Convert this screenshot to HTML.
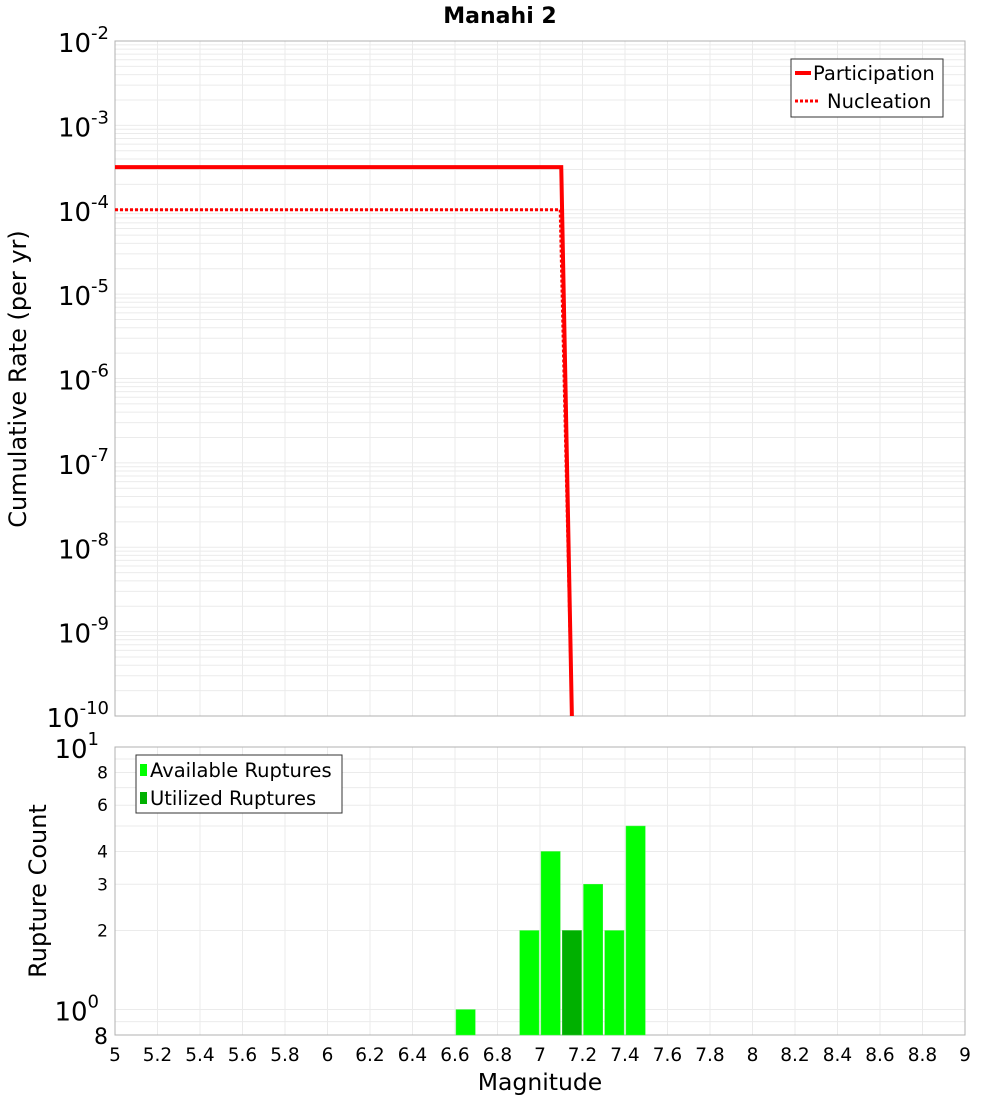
<!DOCTYPE html>
<html><head><meta charset="utf-8"><style>
body{margin:0;background:#fff;font-family:"Liberation Sans","DejaVu Sans",sans-serif}
svg text{font-family:"DejaVu Sans","Liberation Sans",sans-serif}
</style></head><body>
<svg id="c" width="1000" height="1100" xmlns="http://www.w3.org/2000/svg"></svg>
<script>
const binCenters=[6.65,6.95,7.05,7.15,7.25,7.35,7.45];
const availCounts=[1,2,4,2,3,2,5];
const utilCenters=[7.15];
const utilCounts=[2];
const partMag=[5,7.1,7.15];
const partRate=[3.2e-4,3.2e-4,1e-10];
const nuclMag=[5,7.095,7.15];
const nuclRate=[1e-4,1e-4,1e-10];
const xTicks=[5,5.2,5.4,5.6,5.8,6,6.2,6.4,6.6,6.8,7,7.2,7.4,7.6,7.8,8,8.2,8.4,8.6,8.8,9];
const topExps=[-2,-3,-4,-5,-6,-7,-8,-9,-10];
const botTicks=[8,6,4,3,2];

const NS="http://www.w3.org/2000/svg";
const svg=document.getElementById('c');
function mk(t,a,p){const e=document.createElementNS(NS,t);for(const k in a)e.setAttribute(k,a[k]);(p||svg).appendChild(e);return e;}
const X0=115,X1=965;
const x=m=>X0+(m-5)/4*(X1-X0);
const T0=41,T1=716;
const yT=v=>T0+(-2-Math.log10(v))/8*(T1-T0);
const B0=747,B1=1035;
const yB=v=>B0+(1-Math.log10(v))/(1-Math.log10(0.8))*(B1-B0);

const gt=mk('g',{});

for(let e=-10;e<-2;e++)for(let k=1;k<10;k++){const yy=yT(k*Math.pow(10,e));mk('line',{x1:X0,x2:X1,y1:yy,y2:yy,stroke:'#ebebeb','stroke-width':1},gt);}
const gb=mk('g',{});

[0.8,0.9,1,2,3,4,5,6,7,8,9,10].forEach(v=>{const yy=yB(v);mk('line',{x1:X0,x2:X1,y1:yy,y2:yy,stroke:'#ebebeb'},gb);});
xTicks.forEach(t=>{const xx=x(t);mk('line',{x1:xx,x2:xx,y1:T0,y2:T1,stroke:'#ebebeb'},gt);mk('line',{x1:xx,x2:xx,y1:B0,y2:B1,stroke:'#ebebeb'},gb);});

const ft=mk('rect',{x:X0,y:T0,width:X1-X0,height:T1-T0,fill:'none',stroke:'#b0b0b0'});

const fb=mk('rect',{x:X0,y:B0,width:X1-X0,height:B1-B0,fill:'none',stroke:'#b0b0b0'});


const pp=mk('polyline',{points:partMag.map((m,i)=>x(m)+','+yT(partRate[i])).join(' '),fill:'none',stroke:'#ff0000','stroke-width':4});

const np=mk('polyline',{points:nuclMag.map((m,i)=>x(m)+','+yT(nuclRate[i])).join(' '),fill:'none',stroke:'#ff0000','stroke-width':3,'stroke-dasharray':'3,2'});


const bw=x(5.1)-x(5);
binCenters.forEach((c,i)=>{const r=mk('rect',{x:x(c)-bw/2+1,y:yB(availCounts[i]),width:bw-2,height:B1-yB(availCounts[i]),fill:'#00ff00',stroke:'#40f040','stroke-width':0.5});
});
utilCenters.forEach((c,i)=>{const r=mk('rect',{x:x(c)-bw/2+1,y:yB(utilCounts[i]),width:bw-2,height:B1-yB(utilCounts[i]),fill:'#00b000',stroke:'#40c040','stroke-width':0.5});
});

topExps.forEach(e=>{const t=mk('text',{x:109,y:yT(Math.pow(10,e))+11,'text-anchor':'end','font-size':26});

t.innerHTML='10<tspan dy="-13" font-size="18">'+e+'</tspan>';});
const l1=mk('text',{x:99,y:yB(10)+11,'text-anchor':'end','font-size':26});l1.innerHTML='10<tspan dy="-13" font-size="18">1</tspan>';

const l0=mk('text',{x:99,y:yB(1)+11,'text-anchor':'end','font-size':26});l0.innerHTML='10<tspan dy="-13" font-size="18">0</tspan>';

botTicks.forEach(v=>{const t=mk('text',{x:108,y:yB(v)+6,'text-anchor':'end','font-size':17});t.textContent=v;
});
const l8=mk('text',{x:108,y:1044,'text-anchor':'end','font-size':22});l8.textContent='8';

xTicks.forEach(t=>{const e=mk('text',{x:x(t),y:1061,'text-anchor':'middle','font-size':18.5});e.textContent=t;
});

let t=mk('text',{x:500,y:23,'text-anchor':'middle','font-size':22,'font-weight':'bold'});t.textContent='Manahi 2';

t=mk('text',{x:540,y:1090,'text-anchor':'middle','font-size':23.5});t.textContent='Magnitude';

t=mk('text',{x:0,y:0,'text-anchor':'middle','font-size':24,transform:'translate(26,379) rotate(-90)'});t.textContent='Cumulative Rate (per yr)';

t=mk('text',{x:0,y:0,'text-anchor':'middle','font-size':24,transform:'translate(46,891) rotate(-90)'});t.textContent='Rupture Count';


let lg=mk('g',{});
mk('rect',{x:791,y:59,width:152,height:58,fill:'#fff',stroke:'#333'},lg);
mk('line',{x1:795,x2:811,y1:73,y2:73,stroke:'#f00','stroke-width':4},lg);
mk('line',{x1:795,x2:820,y1:101,y2:101,stroke:'#f00','stroke-width':3,'stroke-dasharray':'3,2'},lg);
t=mk('text',{x:813,y:80,'font-size':19.5},lg);t.textContent='Participation';
t=mk('text',{x:827,y:108,'font-size':19.5},lg);t.textContent='Nucleation';
lg=mk('g',{});
mk('rect',{x:136,y:755,width:206,height:58,fill:'#fff',stroke:'#333'},lg);
mk('rect',{x:140,y:764,width:7,height:12,fill:'#00ff00'},lg);
mk('rect',{x:140,y:792,width:7,height:12,fill:'#00b000'},lg);
t=mk('text',{x:150,y:777,'font-size':19.5},lg);t.textContent='Available Ruptures';
t=mk('text',{x:150,y:805,'font-size':19.5},lg);t.textContent='Utilized Ruptures';
</script>
</body></html>
